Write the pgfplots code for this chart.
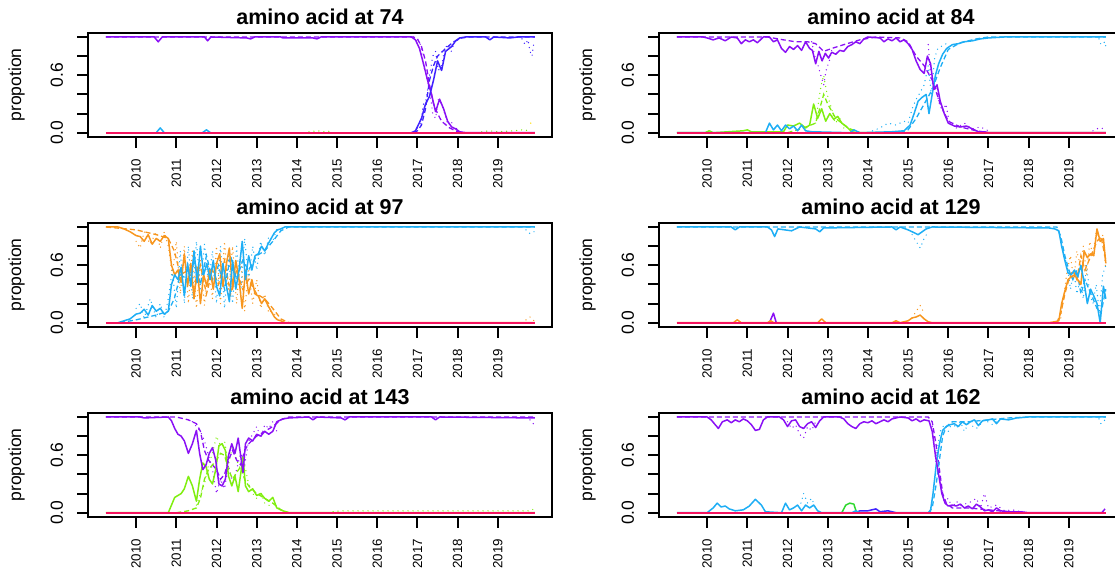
\documentclass[border=0pt]{standalone}
\usepackage{fontspec}
\setmainfont{Liberation Sans}
\usepackage{pgfplots}
\pgfplotsset{compat=1.18}

\definecolor{cpur}{HTML}{8A10F5}
\definecolor{cblu}{HTML}{3F22FF}
\definecolor{ccya}{HTML}{1EAEF5}
\definecolor{cora}{HTML}{F7961E}
\definecolor{cgrn}{HTML}{80EE10}
\definecolor{cgrn2}{HTML}{2ED82E}
\definecolor{cpnk}{HTML}{F5145F}

\pgfplotsset{
  rpanel/.style={
    scale only axis, width=463.4pt, height=103.7pt,
    xmin=2008.81, xmax=2020.34, ymin=-0.0416, ymax=1.0416,
    axis line style={line width=2pt},
    tick align=outside, xtick pos=bottom, ytick pos=left,
    major tick length=11pt,
    xtick style={black, line width=2pt},
    ytick style={black, line width=2pt},
    xtick={2010,2011,2012,2013,2014,2015,2016,2017,2018,2019},
    xticklabels={2010,2011,2012,2013,2014,2015,2016,2017,2018,2019},
    ytick={0,0.2,0.4,0.6,0.8,1},
    yticklabels={0.0,,,0.6,,},
    xticklabel style={rotate=90, anchor=east, inner sep=0pt, xshift=-11pt, font=\fontsize{13.3}{15}\selectfont},
    yticklabel style={rotate=90, anchor=south, inner sep=0pt, yshift=14pt, font=\fontsize{17.5}{20}\selectfont},
    ylabel={propotion},
    ylabel style={font=\fontsize{17.5}{20}\selectfont, at={(axis description cs:0,0.5)}, anchor=center, yshift=71.6pt},
    title style={font=\bfseries\fontsize{21.5}{24}\selectfont, inner sep=0pt, yshift=2pt},
    no markers,
  },
  sol/.style={line width=1.5pt, line join=round},
  das/.style={line width=1.3pt, dash pattern=on 5pt off 3pt},
  dot/.style={line width=1.4pt, line cap=round, dash pattern=on 0pt off 5pt},
  base/.style={cpnk, line width=2.4pt},
}

\begin{document}
\begin{tikzpicture}
\useasboundingbox (0,0) rectangle (1115pt,567pt);

% ---- amino acid at 74
\begin{axis}[rpanel, at={(88.3pt,430.3pt)}, anchor=south west, title={amino acid at 74}]
\addplot[dot,cpur] coordinates {(2016.9,1)(2017.0,0.95)(2017.08,0.92)(2017.15,0.7)(2017.22,0.6)(2017.3,0.45)(2017.38,0.2)(2017.45,0.15)(2017.52,0.35)(2017.6,0.3)(2017.68,0.2)(2017.76,0.08)(2017.84,0.12)(2017.92,0.03)(2018.0,0.05)};
\addplot[dot,cblu] coordinates {(2017.0,0.05)(2017.08,0.1)(2017.15,0.3)(2017.22,0.35)(2017.3,0.6)(2017.38,0.8)(2017.45,0.85)(2017.52,0.65)(2017.6,0.7)(2017.68,0.88)(2017.76,0.92)(2017.84,0.85)(2017.92,0.95)(2018.0,0.97)(2018.1,1)};
\addplot[dot,cblu] coordinates {(2019.6,0.98)(2019.68,0.92)(2019.75,0.97)(2019.8,0.85)(2019.85,0.8)(2019.9,0.95)};
\addplot[dot,cgrn] coordinates {(2014.3,0.01)(2014.5,0.02)(2014.7,0.01)(2014.9,0.02)};
\addplot[dot,cgrn] coordinates {(2018.6,0.01)(2018.8,0.02)(2019.0,0.01)(2019.4,0.02)(2019.6,0.03)(2019.8,0.02)};
\addplot[dot,yellow!80!orange] coordinates {(2019.82,0.1)(2019.88,0.09)};
\addplot[das,cpur] coordinates {(2009.25,1)(2016.9,1)(2017.0,0.98)(2017.1,0.9)(2017.2,0.75)(2017.3,0.5)(2017.4,0.3)(2017.5,0.2)(2017.6,0.12)(2017.8,0.05)(2018.0,0.01)(2018.2,0)};
\addplot[das,cblu] coordinates {(2016.9,0)(2017.0,0.02)(2017.1,0.08)(2017.2,0.25)(2017.3,0.55)(2017.4,0.7)(2017.5,0.8)(2017.7,0.88)(2017.9,0.95)(2018.1,0.99)(2018.3,1)(2019.92,1)};
\addplot[sol,ccya] coordinates {(2010.5,0)(2010.6,0.05)(2010.7,0)};
\addplot[sol,ccya] coordinates {(2011.65,0)(2011.75,0.03)(2011.85,0)};
\addplot[sol,cpur] coordinates {(2009.25,1)(2010.45,1)(2010.55,0.95)(2010.65,1)(2011.7,1)(2011.78,0.96)(2011.86,1)(2012.75,0.99)(2012.85,0.98)(2012.95,1)(2013.6,1)(2013.65,0.99)(2014.4,0.99)(2014.5,0.98)(2014.6,1)(2016.85,1)(2016.95,0.97)(2017.05,0.88)(2017.15,0.72)(2017.25,0.55)(2017.35,0.4)(2017.45,0.22)(2017.55,0.35)(2017.65,0.25)(2017.75,0.12)(2017.85,0.06)(2017.95,0.04)(2018.05,0.01)(2018.2,0)(2019.92,0)};
\addplot[sol,cblu] coordinates {(2016.85,0)(2016.95,0.02)(2017.1,0.15)(2017.2,0.3)(2017.3,0.38)(2017.4,0.55)(2017.5,0.75)(2017.6,0.65)(2017.7,0.85)(2017.85,0.9)(2017.95,0.96)(2018.05,0.99)(2018.2,1)(2018.7,1)(2018.8,0.97)(2018.9,1)(2019.3,0.99)(2019.5,1)(2019.92,1)};
\addplot[base] coordinates {(2009.25,0)(2019.92,0)};
\end{axis}

% ---- amino acid at 84
\begin{axis}[rpanel, at={(659.3pt,430.3pt)}, anchor=south west, title={amino acid at 84}]
\addplot[dot,cpur] coordinates {(2012.6,0.95)(2012.68,0.8)(2012.76,0.7)(2012.84,0.58)(2012.9,0.5)(2012.96,0.65)(2013.04,0.75)(2013.12,0.9)};
\addplot[dot,cpur] coordinates {(2015.5,0.92)(2015.56,0.6)(2015.62,0.55)(2015.7,0.45)(2015.78,0.3)(2015.86,0.22)(2015.94,0.3)(2016.02,0.12)(2016.1,0.08)(2016.2,0.05)(2016.4,0.1)(2016.6,0.04)(2016.8,0.06)(2017.0,0.02)};
\addplot[dot,cpur] coordinates {(2019.6,0.02)(2019.75,0.05)(2019.9,0.04)};
\addplot[dot,cgrn] coordinates {(2012.7,0.1)(2012.78,0.35)(2012.84,0.5)(2012.9,0.6)(2012.96,0.45)(2013.02,0.35)(2013.1,0.25)(2013.18,0.1)(2013.3,0.15)(2013.4,0.05)};
\addplot[dot,ccya] coordinates {(2014.0,0)(2014.3,0.05)(2014.5,0.1)(2014.7,0.08)(2014.9,0.12)(2015.0,0.1)(2015.1,0.25)(2015.2,0.35)(2015.3,0.42)(2015.4,0.5)(2015.5,0.7)(2015.58,0.4)(2015.66,0.78)(2015.74,0.88)(2015.82,0.9)(2015.9,0.92)(2016.0,0.94)};
\addplot[dot,ccya] coordinates {(2019.75,0.98)(2019.8,0.92)(2019.9,0.95)(2019.92,0.9)};
\addplot[das,cpur] coordinates {(2009.25,1)(2011.5,1)(2011.9,0.97)(2012.2,0.95)(2012.5,0.95)(2012.7,0.93)(2012.9,0.85)(2013.1,0.88)(2013.4,0.92)(2013.8,0.97)(2014.2,1)(2014.8,0.99)(2015.0,0.95)(2015.2,0.8)(2015.4,0.7)(2015.6,0.55)(2015.8,0.3)(2016.0,0.12)(2016.3,0.06)(2016.7,0.02)(2017.0,0)};
\addplot[das,ccya] coordinates {(2014.8,0)(2015.0,0.03)(2015.2,0.15)(2015.4,0.3)(2015.6,0.45)(2015.8,0.68)(2016.0,0.87)(2016.3,0.94)(2016.7,0.98)(2017.0,1)(2019.92,1)};
\addplot[das,cgrn] coordinates {(2012.0,0)(2012.4,0.05)(2012.7,0.1)(2012.9,0.4)(2013.0,0.3)(2013.2,0.15)(2013.5,0.05)(2013.8,0)};
\addplot[sol,cgrn] coordinates {(2009.25,0)(2009.95,0)(2010.05,0.02)(2010.15,0)(2010.9,0.02)(2011.0,0.03)(2011.1,0.01)(2011.9,0.01)(2012.0,0.08)(2012.15,0.07)(2012.3,0.1)(2012.45,0.05)(2012.55,0.08)(2012.65,0.3)(2012.75,0.15)(2012.85,0.25)(2012.95,0.12)(2013.05,0.2)(2013.15,0.14)(2013.25,0.17)(2013.35,0.1)(2013.45,0.07)(2013.6,0.01)(2013.75,0)(2019.92,0)};
\addplot[sol,ccya] coordinates {(2009.25,0)(2011.45,0)(2011.55,0.1)(2011.65,0.03)(2011.75,0.08)(2011.85,0.02)(2011.95,0.08)(2012.05,0.04)(2012.15,0.07)(2012.25,0.02)(2012.35,0.08)(2012.45,0.02)(2012.6,0.01)(2013.55,0)(2013.65,0.03)(2013.8,0)(2014.6,0.01)(2014.9,0.02)(2015.05,0.08)(2015.15,0.2)(2015.25,0.33)(2015.35,0.37)(2015.45,0.4)(2015.52,0.2)(2015.6,0.4)(2015.68,0.6)(2015.76,0.72)(2015.86,0.82)(2015.96,0.88)(2016.1,0.92)(2016.25,0.93)(2016.4,0.95)(2016.6,0.96)(2016.8,0.98)(2017.0,0.99)(2017.4,1)(2019.92,1)};
\addplot[sol,cpur] coordinates {(2009.25,1)(2009.9,1)(2010.0,0.99)(2010.15,0.97)(2010.3,0.99)(2010.45,0.96)(2010.6,1)(2010.75,0.99)(2010.85,0.93)(2010.95,0.97)(2011.05,0.95)(2011.15,0.97)(2011.25,0.94)(2011.4,1)(2011.55,1)(2011.65,0.95)(2011.75,0.97)(2011.85,0.88)(2011.95,0.84)(2012.05,0.9)(2012.15,0.87)(2012.25,0.91)(2012.35,0.86)(2012.45,0.95)(2012.55,0.88)(2012.62,0.86)(2012.7,0.72)(2012.78,0.85)(2012.86,0.75)(2012.94,0.83)(2013.02,0.78)(2013.1,0.84)(2013.2,0.82)(2013.3,0.86)(2013.4,0.85)(2013.5,0.9)(2013.6,0.92)(2013.7,0.95)(2013.8,0.93)(2013.9,0.98)(2014.0,1)(2014.3,0.99)(2014.4,0.95)(2014.5,0.98)(2014.6,0.96)(2014.7,0.99)(2014.8,0.95)(2014.9,0.97)(2015.0,0.93)(2015.1,0.87)(2015.2,0.75)(2015.3,0.66)(2015.4,0.62)(2015.48,0.8)(2015.56,0.72)(2015.64,0.45)(2015.72,0.5)(2015.8,0.33)(2015.9,0.2)(2016.0,0.1)(2016.15,0.07)(2016.3,0.06)(2016.45,0.07)(2016.6,0.04)(2016.75,0.01)(2016.9,0.01)(2017.0,0)(2019.92,0)};
\addplot[base] coordinates {(2009.25,0)(2019.92,0)};
\end{axis}

% ---- amino acid at 97
\begin{axis}[rpanel, at={(88.3pt,240.3pt)}, anchor=south west, title={amino acid at 97}]
\addplot[dot,cora] coordinates {(2010.0,0.85)(2010.1,0.78)(2010.2,0.95)(2010.35,0.82)(2010.5,0.95)(2010.6,0.78)(2010.7,0.95)(2010.8,0.8)(2010.9,0.5)(2011.0,0.85)(2011.1,0.3)(2011.2,0.8)(2011.3,0.2)(2011.4,0.75)(2011.5,0.15)(2011.6,0.65)(2011.7,0.18)(2011.8,0.6)(2011.9,0.25)(2012.0,0.8)(2012.1,0.2)(2012.2,0.85)(2012.3,0.3)(2012.4,0.8)(2012.5,0.2)(2012.6,0.7)(2012.7,0.12)(2012.8,0.55)(2012.9,0.2)(2013.0,0.45)(2013.1,0.15)(2013.2,0.3)(2013.3,0.1)(2013.4,0.15)(2013.5,0.02)};
\addplot[dot,cora] coordinates {(2019.7,0.03)(2019.8,0.06)(2019.9,0.02)};
\addplot[dot,ccya] coordinates {(2010.0,0.15)(2010.1,0.2)(2010.2,0.05)(2010.35,0.25)(2010.5,0.05)(2010.6,0.2)(2010.7,0.05)(2010.8,0.25)(2010.9,0.55)(2011.0,0.15)(2011.1,0.75)(2011.2,0.2)(2011.3,0.8)(2011.4,0.25)(2011.5,0.85)(2011.6,0.35)(2011.7,0.82)(2011.8,0.4)(2011.9,0.75)(2012.0,0.2)(2012.1,0.8)(2012.2,0.15)(2012.3,0.7)(2012.4,0.2)(2012.5,0.8)(2012.6,0.3)(2012.7,0.88)(2012.8,0.45)(2012.9,0.8)(2013.0,0.55)(2013.1,0.85)(2013.2,0.7)(2013.3,0.9)(2013.4,0.85)(2013.5,0.98)};
\addplot[dot,ccya] coordinates {(2019.7,0.97)(2019.8,0.93)(2019.9,0.95)};
\addplot[das,cora] coordinates {(2009.25,1)(2010.0,0.97)(2010.5,0.92)(2010.8,0.88)(2010.95,0.75)(2011.1,0.5)(2011.3,0.55)(2011.45,0.35)(2011.6,0.6)(2011.75,0.3)(2011.9,0.55)(2012.05,0.4)(2012.2,0.65)(2012.35,0.3)(2012.5,0.55)(2012.65,0.35)(2012.8,0.45)(2013.0,0.3)(2013.2,0.25)(2013.4,0.15)(2013.6,0.04)(2013.8,0)};
\addplot[das,ccya] coordinates {(2009.6,0)(2010.0,0.03)(2010.5,0.08)(2010.8,0.12)(2010.95,0.25)(2011.1,0.5)(2011.3,0.45)(2011.45,0.65)(2011.6,0.4)(2011.75,0.7)(2011.9,0.45)(2012.05,0.6)(2012.2,0.35)(2012.35,0.7)(2012.5,0.45)(2012.65,0.65)(2012.8,0.55)(2013.0,0.7)(2013.2,0.75)(2013.4,0.85)(2013.6,0.96)(2013.8,1)(2019.92,1)};
\addplot[sol,cora] coordinates {(2009.25,1)(2009.55,1)(2009.7,0.98)(2009.85,0.95)(2010.0,0.91)(2010.1,0.9)(2010.2,0.85)(2010.3,0.92)(2010.4,0.82)(2010.5,0.88)(2010.6,0.85)(2010.7,0.91)(2010.8,0.88)(2010.88,0.6)(2010.96,0.5)(2011.04,0.55)(2011.12,0.42)(2011.2,0.72)(2011.28,0.38)(2011.36,0.62)(2011.44,0.25)(2011.52,0.58)(2011.6,0.2)(2011.68,0.5)(2011.76,0.38)(2011.84,0.55)(2011.92,0.35)(2012.0,0.62)(2012.08,0.72)(2012.16,0.38)(2012.24,0.6)(2012.32,0.78)(2012.4,0.35)(2012.48,0.65)(2012.56,0.45)(2012.64,0.15)(2012.72,0.55)(2012.8,0.3)(2012.88,0.45)(2012.96,0.3)(2013.04,0.28)(2013.12,0.2)(2013.2,0.25)(2013.28,0.18)(2013.36,0.12)(2013.44,0.06)(2013.52,0.03)(2013.6,0.02)(2013.7,0)(2019.92,0)};
\addplot[sol,ccya] coordinates {(2009.55,0)(2009.7,0.02)(2009.85,0.04)(2010.0,0.09)(2010.1,0.1)(2010.2,0.14)(2010.3,0.08)(2010.4,0.18)(2010.5,0.12)(2010.6,0.15)(2010.7,0.09)(2010.8,0.12)(2010.88,0.4)(2010.96,0.5)(2011.04,0.45)(2011.12,0.58)(2011.2,0.28)(2011.28,0.62)(2011.36,0.38)(2011.44,0.75)(2011.52,0.42)(2011.6,0.8)(2011.68,0.5)(2011.76,0.62)(2011.84,0.45)(2011.92,0.65)(2012.0,0.38)(2012.08,0.28)(2012.16,0.62)(2012.24,0.4)(2012.32,0.22)(2012.4,0.65)(2012.48,0.35)(2012.56,0.55)(2012.64,0.85)(2012.72,0.45)(2012.8,0.7)(2012.88,0.55)(2012.96,0.7)(2013.04,0.72)(2013.12,0.8)(2013.2,0.75)(2013.28,0.82)(2013.36,0.88)(2013.44,0.94)(2013.52,0.97)(2013.6,0.98)(2013.7,1)(2019.92,1)};
\addplot[base] coordinates {(2009.25,0)(2019.92,0)};
\end{axis}

% ---- amino acid at 129
\begin{axis}[rpanel, at={(659.3pt,240.3pt)}, anchor=south west, title={amino acid at 129}]
\addplot[dot,ccya] coordinates {(2015.1,0.92)(2015.2,0.85)(2015.3,0.78)(2015.4,0.88)(2015.5,0.95)};
\addplot[dot,ccya] coordinates {(2018.8,0.85)(2018.88,0.7)(2018.96,0.6)(2019.04,0.35)(2019.12,0.55)(2019.2,0.3)(2019.28,0.45)(2019.36,0.25)(2019.44,0.6)(2019.52,0.3)(2019.6,0.2)(2019.68,0.4)(2019.76,0.1)(2019.84,0.5)(2019.92,0.6)};
\addplot[dot,cora] coordinates {(2015.1,0.05)(2015.2,0.12)(2015.3,0.18)(2015.4,0.1)};
\addplot[dot,cora] coordinates {(2018.8,0.05)(2018.88,0.3)(2018.96,0.55)(2019.04,0.7)(2019.12,0.45)(2019.2,0.75)(2019.28,0.6)(2019.36,0.8)(2019.44,0.5)(2019.52,0.85)(2019.6,0.7)(2019.68,0.95)(2019.76,0.85)(2019.84,0.92)(2019.92,0.55)};
\addplot[das,ccya] coordinates {(2009.25,1)(2018.7,1)(2018.8,0.9)(2018.9,0.7)(2019.0,0.55)(2019.1,0.45)(2019.2,0.55)(2019.3,0.3)(2019.4,0.45)(2019.5,0.35)(2019.6,0.25)(2019.7,0.15)(2019.8,0.1)(2019.92,0.35)};
\addplot[das,cora] coordinates {(2018.7,0)(2018.8,0.1)(2018.9,0.3)(2019.0,0.45)(2019.1,0.55)(2019.2,0.45)(2019.3,0.7)(2019.4,0.55)(2019.5,0.65)(2019.6,0.75)(2019.7,0.85)(2019.8,0.9)(2019.92,0.65)};
\addplot[sol,cpur] coordinates {(2011.55,0)(2011.65,0.1)(2011.72,0)};
\addplot[sol,cora] coordinates {(2009.25,0)(2010.65,0)(2010.75,0.03)(2010.85,0)(2011.5,0)(2011.58,0.02)(2011.66,0)(2012.75,0)(2012.85,0.04)(2012.95,0)(2014.6,0)(2014.7,0.02)(2014.8,0)(2015.0,0.02)(2015.1,0.05)(2015.2,0.06)(2015.3,0.08)(2015.4,0.04)(2015.5,0.01)(2015.6,0)(2018.5,0)(2018.65,0.01)(2018.75,0.02)(2018.82,0.2)(2018.9,0.33)(2018.98,0.45)(2019.06,0.48)(2019.14,0.5)(2019.22,0.45)(2019.3,0.4)(2019.38,0.75)(2019.46,0.68)(2019.54,0.72)(2019.62,0.7)(2019.7,0.98)(2019.78,0.85)(2019.86,0.88)(2019.92,0.62)};
\addplot[sol,ccya] coordinates {(2009.25,1)(2010.6,1)(2010.7,0.97)(2010.8,1)(2011.5,1)(2011.6,0.97)(2011.68,0.9)(2011.76,0.98)(2012.1,0.96)(2012.3,1)(2012.7,0.98)(2012.8,0.95)(2012.9,0.99)(2014.6,1)(2014.7,0.97)(2014.8,1)(2015.0,0.97)(2015.15,0.94)(2015.25,0.92)(2015.35,0.95)(2015.45,0.98)(2015.6,1)(2018.5,0.99)(2018.65,0.98)(2018.75,0.96)(2018.82,0.8)(2018.9,0.65)(2018.98,0.52)(2019.06,0.5)(2019.14,0.55)(2019.22,0.48)(2019.3,0.6)(2019.38,0.42)(2019.46,0.2)(2019.54,0.35)(2019.62,0.28)(2019.7,0.2)(2019.78,0.0)(2019.86,0.38)(2019.92,0.25)};
\addplot[base] coordinates {(2009.25,0)(2019.92,0)};
\end{axis}

% ---- amino acid at 143
\begin{axis}[rpanel, at={(88.3pt,50.3pt)}, anchor=south west, title={amino acid at 143}]
\addplot[dot,cpur] coordinates {(2011.4,0.95)(2011.5,0.9)(2011.6,0.85)(2011.7,0.75)(2011.8,0.6)(2011.9,0.45)(2012.0,0.2)(2012.1,0.35)(2012.2,0.25)(2012.3,0.5)(2012.4,0.3)(2012.5,0.45)(2012.6,0.62)(2012.7,0.5)(2012.8,0.75)(2012.9,0.82)(2013.0,0.9)(2013.1,0.78)(2013.2,0.92)(2013.3,0.88)(2013.4,0.95)(2013.5,0.85)};
\addplot[dot,cpur] coordinates {(2019.8,0.97)(2019.85,0.95)(2019.9,0.92)};
\addplot[dot,cgrn] coordinates {(2011.5,0.08)(2011.6,0.2)(2011.7,0.3)(2011.8,0.5)(2011.9,0.62)(2012.0,0.8)(2012.1,0.7)(2012.2,0.75)(2012.3,0.5)(2012.4,0.7)(2012.5,0.55)(2012.6,0.45)(2012.7,0.5)(2012.8,0.3)(2012.9,0.2)(2013.0,0.15)(2013.1,0.22)(2013.2,0.1)(2013.3,0.08)(2013.4,0.05)};
\addplot[dot,cgrn] coordinates {(2014.9,0.01)(2015.1,0.02)(2015.3,0.02)(2017.4,0.02)(2019.8,0.02)(2019.9,0.04)};
\addplot[das,cpur] coordinates {(2009.25,1)(2011.0,1)(2011.3,0.97)(2011.5,0.93)(2011.6,0.85)(2011.7,0.65)(2011.8,0.55)(2011.9,0.5)(2012.0,0.45)(2012.1,0.35)(2012.2,0.4)(2012.3,0.55)(2012.4,0.65)(2012.5,0.55)(2012.6,0.5)(2012.7,0.65)(2012.8,0.72)(2013.0,0.8)(2013.2,0.85)(2013.4,0.9)(2013.6,0.97)(2013.8,1)(2019.92,1)};
\addplot[das,cgrn] coordinates {(2011.0,0)(2011.3,0.02)(2011.5,0.05)(2011.6,0.15)(2011.7,0.35)(2011.8,0.45)(2011.9,0.5)(2012.0,0.55)(2012.1,0.62)(2012.2,0.6)(2012.3,0.45)(2012.4,0.35)(2012.5,0.42)(2012.6,0.48)(2012.7,0.35)(2012.8,0.28)(2013.0,0.2)(2013.2,0.15)(2013.4,0.1)(2013.6,0.03)(2013.8,0)};
\addplot[sol,cgrn] coordinates {(2009.25,0)(2010.8,0)(2010.88,0.08)(2010.96,0.16)(2011.04,0.18)(2011.12,0.2)(2011.2,0.25)(2011.3,0.38)(2011.4,0.28)(2011.5,0.12)(2011.58,0.35)(2011.66,0.52)(2011.74,0.48)(2011.82,0.35)(2011.9,0.3)(2011.98,0.45)(2012.06,0.7)(2012.14,0.72)(2012.22,0.65)(2012.3,0.38)(2012.38,0.28)(2012.46,0.38)(2012.54,0.22)(2012.6,0.4)(2012.66,0.58)(2012.72,0.28)(2012.8,0.22)(2012.9,0.25)(2013.0,0.18)(2013.1,0.2)(2013.2,0.15)(2013.3,0.12)(2013.4,0.16)(2013.5,0.05)(2013.65,0.02)(2013.8,0)(2019.92,0)};
\addplot[sol,cpur] coordinates {(2009.25,1)(2010.1,1)(2010.2,0.99)(2010.8,1)(2010.88,0.96)(2010.96,0.88)(2011.04,0.82)(2011.12,0.8)(2011.2,0.75)(2011.3,0.62)(2011.4,0.72)(2011.5,0.86)(2011.58,0.62)(2011.66,0.45)(2011.74,0.5)(2011.82,0.62)(2011.9,0.68)(2011.98,0.55)(2012.06,0.3)(2012.14,0.28)(2012.22,0.35)(2012.3,0.6)(2012.38,0.72)(2012.46,0.62)(2012.54,0.78)(2012.6,0.6)(2012.66,0.42)(2012.72,0.72)(2012.8,0.78)(2012.9,0.75)(2013.0,0.82)(2013.1,0.8)(2013.2,0.85)(2013.3,0.82)(2013.4,0.85)(2013.5,0.95)(2013.65,0.98)(2013.8,0.99)(2014.3,1)(2014.4,0.97)(2014.5,1)(2015.1,0.99)(2015.2,0.97)(2015.3,1)(2017.35,1)(2017.45,0.97)(2017.55,1)(2019.92,0.99)};
\addplot[base] coordinates {(2009.25,0)(2019.92,0)};
\end{axis}

% ---- amino acid at 162
\begin{axis}[rpanel, at={(659.3pt,50.3pt)}, anchor=south west, title={amino acid at 162}]
\addplot[dot,cpur] coordinates {(2012.0,0.95)(2012.1,0.88)(2012.2,0.92)(2012.3,0.82)(2012.4,0.78)(2012.5,0.9)(2012.6,0.86)(2012.7,0.95)};
\addplot[dot,cpur] coordinates {(2015.6,0.9)(2015.7,0.5)(2015.8,0.3)(2015.9,0.12)(2016.0,0.15)(2016.1,0.05)(2016.2,0.12)(2016.3,0.08)(2016.5,0.1)(2016.7,0.15)(2016.8,0.05)(2016.9,0.2)(2017.0,0.05)(2017.2,0.08)(2017.4,0.02)(2017.6,0.03)(2017.8,0.01)};
\addplot[dot,ccya] coordinates {(2012.3,0.05)(2012.4,0.2)(2012.5,0.1)(2012.6,0.15)(2012.7,0.05)};
\addplot[dot,ccya] coordinates {(2015.7,0.6)(2015.8,0.85)(2015.9,0.92)(2016.0,0.85)(2016.1,0.95)(2016.2,0.88)(2016.3,0.95)(2016.4,0.85)(2016.5,0.93)(2016.7,0.88)(2016.9,0.97)(2017.1,0.92)(2017.3,0.98)};
\addplot[dot,ccya] coordinates {(2019.75,0.98)(2019.8,0.93)(2019.9,0.97)};
\addplot[das,cpur] coordinates {(2009.25,1)(2015.5,1)(2015.6,0.95)(2015.7,0.7)(2015.78,0.45)(2015.86,0.2)(2015.95,0.1)(2016.1,0.05)(2016.5,0.05)(2017.0,0.03)(2017.5,0.01)(2018.0,0)};
\addplot[das,ccya] coordinates {(2015.5,0)(2015.6,0.05)(2015.7,0.3)(2015.78,0.55)(2015.86,0.8)(2015.95,0.9)(2016.1,0.95)(2016.5,0.95)(2017.0,0.97)(2017.5,0.99)(2018.0,1)(2019.92,1)};
\addplot[sol,cgrn2] coordinates {(2013.35,0)(2013.45,0.08)(2013.55,0.1)(2013.65,0.09)(2013.72,0)};
\addplot[sol,cblu] coordinates {(2013.7,0)(2013.8,0.02)(2014.0,0.02)(2014.2,0.04)(2014.3,0.01)(2014.5,0.02)(2014.7,0)};
\addplot[sol,ccya] coordinates {(2009.25,0)(2010.0,0)(2010.15,0.05)(2010.25,0.1)(2010.35,0.06)(2010.45,0.07)(2010.55,0.04)(2010.7,0.02)(2010.9,0.03)(2011.05,0.07)(2011.2,0.14)(2011.35,0.08)(2011.45,0.01)(2011.85,0)(2011.95,0.1)(2012.05,0.03)(2012.15,0.05)(2012.25,0.08)(2012.35,0.02)(2012.45,0.08)(2012.55,0.05)(2012.65,0.08)(2012.75,0.02)(2012.85,0)(2013.6,0)(2013.7,0.02)(2013.8,0)(2015.55,0)(2015.62,0.2)(2015.7,0.5)(2015.78,0.72)(2015.86,0.86)(2015.95,0.9)(2016.05,0.92)(2016.15,0.93)(2016.25,0.9)(2016.35,0.95)(2016.45,0.92)(2016.55,0.95)(2016.65,0.97)(2016.75,0.91)(2016.85,0.96)(2017.0,0.97)(2017.1,0.98)(2017.2,0.93)(2017.3,0.98)(2017.5,0.97)(2017.7,0.99)(2018.0,1)(2019.92,1)};
\addplot[sol,cpur] coordinates {(2009.25,1)(2010.0,1)(2010.1,0.97)(2010.2,0.92)(2010.28,0.88)(2010.38,0.95)(2010.5,0.97)(2010.6,0.94)(2010.7,0.97)(2010.8,0.95)(2010.9,0.98)(2011.0,0.96)(2011.1,0.92)(2011.2,0.86)(2011.3,0.87)(2011.4,0.97)(2011.5,1)(2011.8,1)(2011.9,0.97)(2012.0,0.9)(2012.1,0.96)(2012.2,0.97)(2012.3,0.9)(2012.4,0.88)(2012.5,0.93)(2012.6,0.95)(2012.7,0.89)(2012.8,0.96)(2012.9,1)(2013.3,1)(2013.4,0.98)(2013.5,0.93)(2013.6,0.9)(2013.7,0.88)(2013.8,0.93)(2013.9,0.95)(2014.0,0.94)(2014.1,0.96)(2014.2,0.93)(2014.3,0.95)(2014.4,0.97)(2014.5,0.95)(2014.6,0.98)(2014.8,1)(2015.0,0.99)(2015.1,0.96)(2015.2,0.98)(2015.3,0.95)(2015.4,0.97)(2015.52,0.96)(2015.6,0.85)(2015.68,0.6)(2015.76,0.4)(2015.84,0.2)(2015.92,0.1)(2016.0,0.07)(2016.1,0.08)(2016.2,0.07)(2016.3,0.09)(2016.4,0.05)(2016.5,0.07)(2016.6,0.04)(2016.7,0.09)(2016.8,0.06)(2016.9,0.02)(2017.0,0.03)(2017.1,0.01)(2017.2,0.05)(2017.3,0.02)(2017.5,0.01)(2017.8,0.01)(2018.0,0)(2019.82,0)(2019.9,0.04)};
\addplot[base] coordinates {(2009.25,0)(2019.92,0)};
\end{axis}
\end{tikzpicture}
\end{document}
